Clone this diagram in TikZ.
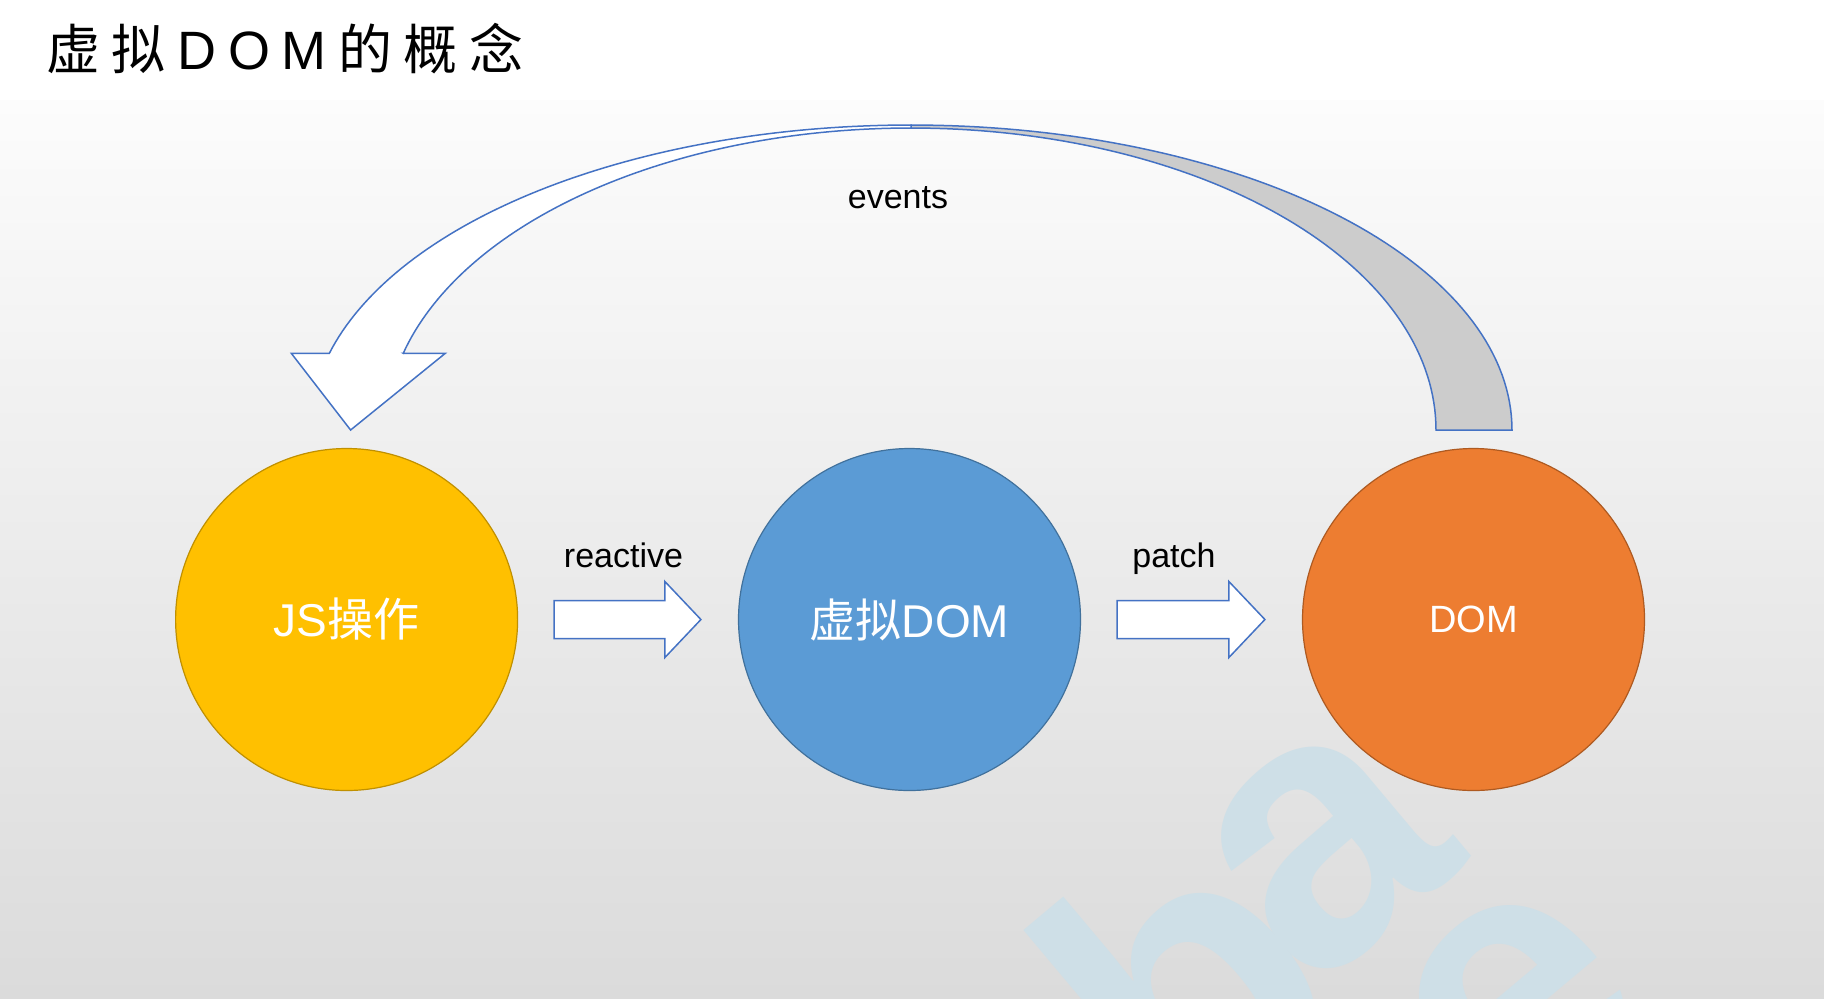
\documentclass[tikz,border=0pt]{standalone}
\usepackage{fontspec}
\setmainfont{Liberation Sans}
\newfontfamily\cjk{Noto Sans CJK SC}
\usetikzlibrary{calc}
\definecolor{jsy}{HTML}{FFC000}
\definecolor{jsyd}{HTML}{C09000}
\definecolor{vblue}{HTML}{5B9BD5}
\definecolor{vblued}{HTML}{41719C}
\definecolor{dorange}{HTML}{ED7D31}
\definecolor{dorangd}{HTML}{AE5A21}
\definecolor{arrowblue}{HTML}{4472C4}
\definecolor{band}{HTML}{CCCCCC}
\definecolor{wm}{RGB}{206,223,231}
\definecolor{bgtop}{HTML}{FCFCFC}
\definecolor{bgbot}{HTML}{DBDBDB}
\tikzset{
  ball/.style={circle, minimum size=171pt, inner sep=0pt, line width=0.6pt, text=white},
  blk/.style={fill=white, draw=arrowblue, line width=0.75pt, line join=miter},
  lbl/.style={anchor=base, inner sep=0pt, font=\fontsize{17}{20}\selectfont},
  wmark/.style={inner sep=0pt, text=wm, rotate=40, font=\bfseries\fontsize{190}{190}\selectfont}
}
\begin{document}
\begin{tikzpicture}[x=0.5pt, y=-0.5pt]
\useasboundingbox (0,0) rectangle (1824,998);
% background
\fill[white] (0,0) rectangle (1824,998);
\shade[top color=bgtop, bottom color=bgbot] (0,100) rectangle (1824,998);
% watermark
\begin{scope}
  \clip (0,0) rectangle (1824,998);
  \node[wmark] (wmb) at (1182,980) {b};
  \node[wmark] (wma) at (1326,851) {a};
  \node[wmark] (wme) at (1520,1010) {e};
\end{scope}
% title
\node[anchor=base west, inner sep=0pt, font=\fontsize{27}{30}\selectfont] (title) at (46,69)
  {{\cjk 虚}\kern5.8pt{\cjk 拟}\kern5.8pt D\kern5.8pt O\kern5.8pt M\kern5.8pt{\cjk 的}\kern5.8pt{\cjk 概}\kern5.8pt{\cjk 念}};
% circles
\node[ball, fill=jsy, draw=jsyd, font=\fontsize{23}{27}\selectfont] (js) at (346.6,619.5) {JS{\cjk 操作}};
\node[ball, fill=vblue, draw=vblued, font=\fontsize{23}{27}\selectfont] (vdom) at (909.5,619.5) {{\cjk 虚拟}DOM};
\node[ball, fill=dorange, draw=dorangd, font=\fontsize{19}{23}\selectfont] (dom) at (1473.5,619.5) {DOM};
% straight block arrows
\coordinate (r1) at ($(js.east)+(36,0)$);
\coordinate (r2) at ($(vdom.west)+(-37,0)$);
\draw[blk] ($(r1)+(0,-19)$) -- ($(r2)+(-36,-19)$) -- ($(r2)+(-36,-38)$) -- (r2)
  -- ($(r2)+(-36,38)$) -- ($(r2)+(-36,19)$) -- ($(r1)+(0,19)$) -- cycle;
\coordinate (p1) at ($(vdom.east)+(36,0)$);
\coordinate (p2) at ($(dom.west)+(-37,0)$);
\draw[blk] ($(p1)+(0,-19)$) -- ($(p2)+(-36,-19)$) -- ($(p2)+(-36,-38)$) -- (p2)
  -- ($(p2)+(-36,38)$) -- ($(p2)+(-36,19)$) -- ($(p1)+(0,19)$) -- cycle;
\node[lbl] (reactive) at (623.5,567) {reactive};
\node[lbl] (patch) at (1174,567) {patch};
% curved arrow: back part (gray)
\filldraw[fill=band, draw=arrowblue, line width=0.75pt, line join=miter]
  plot[domain=90:0, samples=70] ({911+601*cos(\x)},{430-305*sin(\x)})
  -- plot[domain=0:90, samples=70] ({911+525*cos(\x)},{430-302*sin(\x)}) -- cycle;
% curved arrow: front part with head
\filldraw[blk]
  plot[domain=90:165.43, samples=70] ({911+601*cos(\x)},{430-305*sin(\x)})
  -- (291.3,353.3) -- (350.6,430) -- (445.3,353.3) -- (403.2,353.3)
  -- plot[domain=165.29:90, samples=70] ({911+525*cos(\x)},{430-302*sin(\x)}) -- cycle;
\node[lbl] (events) at (898,208) {events};
\end{tikzpicture}
\end{document}
